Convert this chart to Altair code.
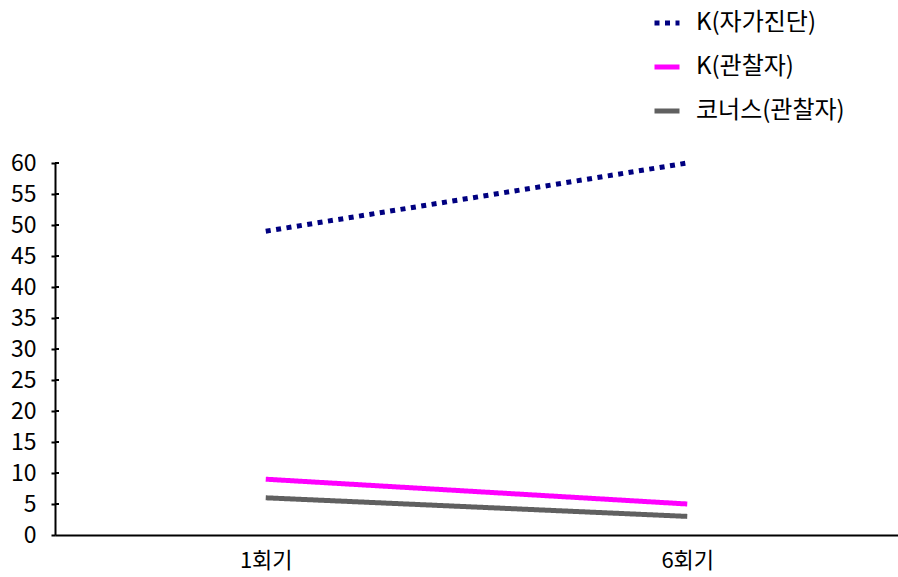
import altair as alt
import pandas as pd

sessions = ["1회기", "6회기"]
series_names = ["K(자가진단)", "K(관찰자)", "코너스(관찰자)"]
self_report = [49, 60]
k_observer = [9, 5]
conners_observer = [6, 3]
y_ticks = list(range(0, 61, 5))

rows = []
for name, vals in zip(series_names, [self_report, k_observer, conners_observer]):
    for s, v in zip(sessions, vals):
        rows.append({"회기": s, "점수": v, "척도": name})
df = pd.DataFrame(rows)

FONT = "Noto Sans CJK KR"

legend_style = dict(title=None, orient="none", legendX=597, legendY=-155,
                    symbolType="stroke", symbolStrokeWidth=5, symbolSize=625,
                    labelFontSize=24, labelFont=FONT, labelColor="black",
                    rowPadding=17, labelOffset=14)

y_axis = alt.Axis(title=None, values=y_ticks, grid=False, domainWidth=2,
                  domainColor="black", tickColor="black", tickWidth=2, tickSize=4,
                  labelOverlap=False, labelFontSize=23, labelPadding=15,
                  labelColor="black", labelFont=FONT)
y_scale = alt.Scale(domain=[0, 60], nice=False)

lines = alt.Chart(df).mark_line(strokeWidth=5, strokeCap="butt").encode(
    x=alt.X("회기:N", sort=sessions, scale=alt.Scale(paddingInner=0, paddingOuter=0.5),
            axis=alt.Axis(title=None, labelAngle=0, ticks=False, domainWidth=2, domainColor="black",
                          labelFontSize=22, labelPadding=15, labelColor="black", labelFont=FONT)),
    y=alt.Y("점수:Q", scale=y_scale, axis=y_axis),
    color=alt.Color("척도:N", sort=series_names,
                    scale=alt.Scale(domain=series_names, range=["#000080", "#FF00FF", "#606060"]),
                    legend=alt.Legend(**legend_style)),
    strokeDash=alt.StrokeDash("척도:N", sort=series_names,
                              scale=alt.Scale(domain=series_names, range=[[5, 5.5], [1, 0], [1, 0]]),
                              legend=alt.Legend(**legend_style)),
)

# inner half of the y-axis tick marks, crossing the axis line
inner_ticks = alt.Chart(pd.DataFrame({"점수": y_ticks[1:]})).mark_rule(
    color="black", strokeWidth=2
).encode(y=alt.Y("점수:Q", scale=y_scale, axis=y_axis), x=alt.value(0), x2=alt.value(4))

chart = (
    alt.layer(lines, inner_ticks)
    .properties(
        width=843, height=372,
        padding={"left": 55, "top": 163, "right": 0, "bottom": 42},
        autosize=alt.AutoSizeParams(type="none"),
    )
    .configure(font=FONT)
    .configure_view(strokeWidth=0, stroke="transparent")
    .configure_axis(grid=False)
)

chart.save("out.html", embed_options={"renderer": "svg", "actions": False})
